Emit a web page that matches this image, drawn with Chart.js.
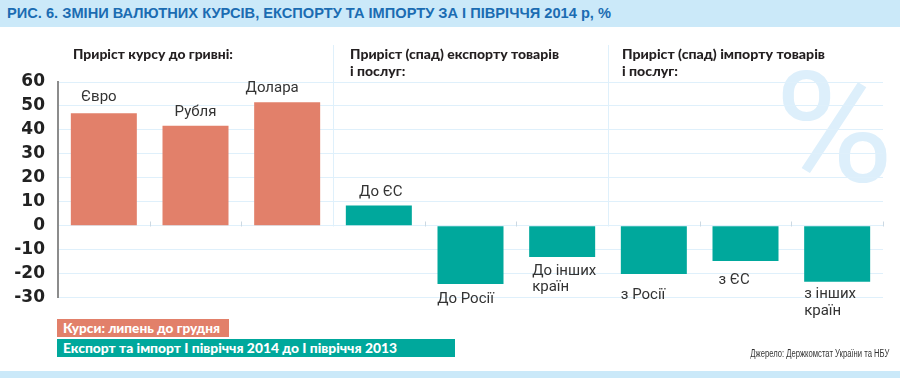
<!DOCTYPE html>
<html>
<head>
<meta charset="utf-8">
<script src="https://cdn.jsdelivr.net/npm/chart.js@4/dist/chart.umd.min.js"></script>
<style>
  body { margin: 0; background: #fff; overflow: hidden; }
  #wrap { position: relative; width: 900px; height: 378px; background: #fff; }
  #chart { position: absolute; left: 0; top: 0; }
  .band { position: absolute; left: 0; width: 900px; background: #cbe9f9; }
  .fit { position: absolute; white-space: nowrap; }
  #title { left: 7px; top: 5px; font: bold 14px/16px "Liberation Sans", Arial, sans-serif; color: #1b6cb2; transform-origin: left top; }
  .head { position: absolute; font: 900 13px/17px Lato, sans-serif; color: #231f20; top: 46px; white-space: nowrap; transform-origin: left top; }
  .key { position: absolute; left: 57px; height: 18px; box-sizing: border-box; }
  .key span { position: absolute; left: 6px; top: 0; color: #fff; font: 900 13px/18px Lato, sans-serif; white-space: nowrap; transform-origin: left top; }
  #source { right: 11px; top: 348px; font: 10px/12px "Liberation Sans", Arial, sans-serif; color: #333; transform-origin: right top; }
</style>
</head>
<body>
<div id="wrap">
  <div class="band" style="top:0;height:27px"></div>
  <div class="fit" id="title">РИС. 6. ЗМІНИ ВАЛЮТНИХ КУРСІВ, ЕКСПОРТУ ТА ІМПОРТУ ЗА І ПІВРІЧЧЯ 2014 р, %</div>
  <canvas id="chart" width="900" height="378"></canvas>
  <div class="head" id="h1" style="left:73px">Приріст курсу до гривні:</div>
  <div class="head" id="h2" style="left:350px">Приріст (спад) експорту товарів<br>і послуг:</div>
  <div class="head" id="h3" style="left:622px">Приріст (спад) імпорту товарів<br>і послуг:</div>
  <div class="key" style="top:319px;width:172px;background:#e2806a"><span id="k1">Курси: липень до грудня</span></div>
  <div class="key" style="top:339px;width:398px;background:#00a89c"><span id="k2">Експорт та імпорт І півріччя 2014 до І півріччя 2013</span></div>
  <div class="fit" id="source">Джерело: Держкомстат України та НБУ</div>
  <div class="band" style="top:371px;height:7px"></div>
</div>
<script>
// values, %
const rateLabels = [['Євро'], ['Рубля'], ['Долара']];
const rateValues = [47, 41.7, 51.5];
const exportLabels = [['До ЄС'], ['До Росії'], ['До інших', 'країн']];
const exportValues = [8.4, -24.4, -13.1];
const importLabels = [['з Росії'], ['з ЄС'], ['з інших', 'країн']];
const importValues = [-20.2, -14.8, -23.4];
const yMin = -30;
const yMax = 60;
const yStep = 10;

const orange = '#e2806a';
const teal = '#00a89c';
const gridBlue = '#dff0fb';

// stretch or squeeze texts to the width they have in the picture
function fitWidth(id, w) {
    const el = document.getElementById(id);
    const real = el.getBoundingClientRect().width;
    el.style.transform = 'scaleX(' + (w / real) + ')';
}
fitWidth('title', 604);
fitWidth('source', 139);
fitWidth('h1', 160);
fitWidth('h2', 209);
fitWidth('h3', 203);
fitWidth('k1', 157);
fitWidth('k2', 334);

const allLabels = [...rateLabels, ...exportLabels, ...importLabels];
const allValues = [...rateValues, ...exportValues, ...importValues];
const colors = allValues.map((v, i) => i < rateValues.length ? orange : teal);

// label placement next to each bar: align, x shift, gap from bar end
const labelPlace = [
    ['center', -5, 16], ['center', 0, 14], ['center', -15, 14],
    ['center', 2, 13], ['center', -5, 15], ['left', 3, 14],
    ['left', 0, 21], ['left', 6, 19], ['left', 0, 13]
];

const decor = {
    id: 'decor',
    beforeDraw(chart) {
        // big pale percent sign at the right
        const ctx = chart.ctx;
        ctx.save();
        ctx.font = '150px Roboto';
        const m = ctx.measureText('%');
        const w = m.actualBoundingBoxLeft + m.actualBoundingBoxRight;
        const h = m.actualBoundingBoxAscent + m.actualBoundingBoxDescent;
        ctx.translate(782, 70);
        ctx.scale(105 / w, 113 / h);
        ctx.fillStyle = '#ddeffb';
        ctx.textBaseline = 'alphabetic';
        ctx.fillText('%', m.actualBoundingBoxLeft, m.actualBoundingBoxAscent);
        ctx.restore();
    },
    beforeDatasetsDraw(chart) {
        const ctx = chart.ctx;
        const x = chart.scales.x;
        const zero = Math.round(chart.scales.y.getPixelForValue(0)) + 0.5;
        const half = (x.getPixelForValue(1) - x.getPixelForValue(0)) / 2;
        ctx.save();
        ctx.lineWidth = 1;
        for (let i = 1; i <= allValues.length; i++) {
            const bx = Math.round(x.getPixelForValue(i) - half) + 0.5;
            ctx.beginPath();
            if (i === 3 || i === 6) {
                ctx.strokeStyle = gridBlue;
                ctx.moveTo(bx, 45);
            } else {
                ctx.strokeStyle = '#ccd9e3';
                ctx.moveTo(bx, zero - 5);
            }
            ctx.lineTo(bx, zero);
            ctx.stroke();
        }
        ctx.restore();
    },
    afterDatasetsDraw(chart) {
        const ctx = chart.ctx;
        const meta = chart.getDatasetMeta(0);
        ctx.save();
        ctx.font = '15px Roboto';
        ctx.fillStyle = '#333';
        ctx.textBaseline = 'middle';
        meta.data.forEach((bar, i) => {
            const lines = allLabels[i];
            const [align, dx, gap] = labelPlace[i];
            const up = allValues[i] >= 0;
            const tx = align === 'center' ? bar.x + dx : bar.x - bar.width / 2 + dx;
            ctx.textAlign = align;
            lines.forEach((t, k) => {
                const ty = up ? bar.y - gap - (lines.length - 1 - k) * 16.5 : bar.y + gap + k * 16.5;
                ctx.fillText(t, tx, ty);
            });
        });
        ctx.restore();
    }
};

new Chart(document.getElementById('chart'), {
    type: 'bar',
    data: {
        labels: allLabels.map(l => l.join(' ')),
        datasets: [{
            data: allValues,
            backgroundColor: colors,
            borderWidth: 0,
            barPercentage: 0.72,
            categoryPercentage: 1
        }]
    },
    options: {
        responsive: false,
        animation: false,
        devicePixelRatio: 1,
        layout: { padding: { top: 82, bottom: 80.5, right: 17, left: 0 } },
        plugins: { legend: { display: false }, tooltip: { enabled: false } },
        scales: {
            x: { display: false },
            y: {
                min: yMin,
                max: yMax,
                ticks: {
                    stepSize: yStep,
                    padding: 13,
                    color: '#222',
                    font: { family: 'DejaVu Sans', weight: 'bold', size: 17 }
                },
                grid: { color: gridBlue, drawTicks: false },
                border: { color: '#8c8c8c', width: 2 },
                afterFit(s) { s.width = 58; }
            }
        }
    },
    plugins: [decor]
});
</script>
</body>
</html>
